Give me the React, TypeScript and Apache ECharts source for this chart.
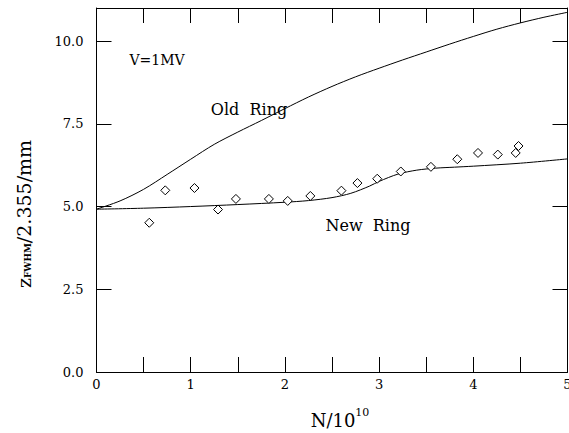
import React, { useEffect, useRef } from "react";
import * as echarts from "echarts";

// Measured points (diamonds)
const measX = [0.56, 0.73, 1.04, 1.29, 1.48, 1.83, 2.03, 2.27, 2.6, 2.77, 2.98, 3.23, 3.55, 3.83, 4.05, 4.26, 4.45, 4.48];
const measY = [4.51, 5.49, 5.56, 4.91, 5.23, 5.23, 5.17, 5.32, 5.48, 5.71, 5.84, 6.06, 6.2, 6.43, 6.62, 6.57, 6.62, 6.83];

// Old Ring curve
const oldX = [0, 0.25, 0.5, 0.75, 1.0, 1.25, 1.5, 1.75, 2.0, 2.25, 2.5, 2.75, 3.0, 3.25, 3.5, 3.75, 4.0, 4.25, 4.5, 4.75, 5.0];
const oldY = [4.92, 5.17, 5.52, 5.97, 6.43, 6.88, 7.25, 7.6, 7.96, 8.31, 8.63, 8.92, 9.18, 9.43, 9.67, 9.91, 10.14, 10.36, 10.55, 10.72, 10.87];

// New Ring curve
const newX = [0, 0.5, 1.0, 1.5, 2.0, 2.25, 2.5, 2.7, 2.9, 3.0, 3.2, 3.4, 3.6, 3.8, 4.0, 4.5, 5.0];
const newY = [4.92, 4.95, 5.0, 5.06, 5.13, 5.18, 5.27, 5.4, 5.62, 5.76, 5.98, 6.1, 6.16, 6.19, 6.22, 6.31, 6.44];

const annotations = [
  { text: "V=1MV", x: 157, y: 60, size: 14 },
  { text: "Old  Ring", x: 249, y: 109, size: 16 },
  { text: "New  Ring", x: 368, y: 225, size: 16 },
];

const FONT = "DejaVu Serif";

const fmtY = (v: number) => {
  const k = v / 2.5;
  return Math.abs(k - Math.round(k)) < 1e-6 ? v.toFixed(1) : "";
};
const fmtX = (v: number) => (Math.abs(v - Math.round(v)) < 1e-6 ? String(Math.round(v)) : "");

export default function App() {
  const ref = useRef<HTMLDivElement>(null);
  useEffect(() => {
    if (!ref.current) return;
    const chart = echarts.init(ref.current, undefined, { renderer: "svg" });
    const axisCommon = {
      type: "value" as const,
      axisLine: { show: true, onZero: false, lineStyle: { color: "#000", width: 1 } },
      axisTick: { show: true, inside: true, length: 15, lineStyle: { color: "#000", width: 1 } },
      splitLine: { show: false },
    };
    chart.setOption({
      animation: false,
      backgroundColor: "#fff",
      grid: { left: 96.5, right: 1.5, top: 8, bottom: 61, outerBoundsMode: "none", containLabel: false },
      xAxis: [
        {
          ...axisCommon,
          position: "bottom",
          min: 0,
          max: 5,
          interval: 0.5,
          axisLabel: { show: true, formatter: fmtX, color: "#000", fontFamily: FONT, fontSize: 13, margin: 6, showMaxLabel: true, hideOverlap: false },
        },
        {
          ...axisCommon,
          position: "top",
          min: 0,
          max: 5,
          interval: 0.5,
          axisLabel: { show: false },
        },
      ],
      yAxis: [
        {
          ...axisCommon,
          position: "left",
          min: 0,
          max: 11,
          interval: 2.5,
          axisLabel: { show: true, formatter: fmtY, color: "#000", fontFamily: FONT, fontSize: 13, margin: 13, hideOverlap: false },
        },
        {
          ...axisCommon,
          position: "right",
          min: 0,
          max: 11,
          interval: 2.5,
          axisLabel: { show: false },
        },
      ],
      series: [
        {
          type: "line",
          name: "Old Ring",
          data: oldX.map((x, i) => [x, oldY[i]]),
          smooth: 0.3,
          showSymbol: false,
          lineStyle: { color: "#000", width: 1 },
          silent: true,
        },
        {
          type: "line",
          name: "New Ring",
          data: newX.map((x, i) => [x, newY[i]]),
          smooth: 0.3,
          showSymbol: false,
          lineStyle: { color: "#000", width: 1 },
          silent: true,
        },
        {
          type: "scatter",
          name: "data",
          data: measX.map((x, i) => [x, measY[i]]),
          symbol: "diamond",
          symbolSize: [9, 9],
          itemStyle: { color: "#fff", borderColor: "#000", borderWidth: 1, opacity: 1 },
          z: 5,
        },
      ],
      graphic: [
        ...annotations.map((a) => ({
          type: "text",
          x: a.x,
          y: a.y,
          style: { text: a.text, fill: "#000", font: `${a.size}px "${FONT}"`, align: "center", verticalAlign: "middle" },
        })),
        {
          type: "text",
          x: 340,
          y: 420,
          style: {
            text: "{a|N/10}{b|10}",
            align: "center",
            verticalAlign: "middle",
            rich: {
              a: { fontFamily: FONT, fontSize: 18, fill: "#000", color: "#000" },
              b: { fontFamily: FONT, fontSize: 11, fill: "#000", color: "#000", padding: [0, 0, 15, 0] },
            },
          },
        },
        {
          type: "text",
          x: 24,
          y: 214,
          rotation: Math.PI / 2,
          style: {
            text: "{a|z}{s|FWHM}{a|/2.355/mm}",
            align: "center",
            verticalAlign: "middle",
            rich: {
              a: { fontFamily: FONT, fontSize: 19, fill: "#000", color: "#000" },
              s: { fontFamily: FONT, fontSize: 9, fontWeight: "bold", fill: "#000", color: "#000", padding: [7, 0, 0, 0] },
            },
          },
        },
      ],
    });
    return () => chart.dispose();
  }, []);
  return <div ref={ref} style={{ width: 569, height: 433, position: "absolute", left: 0, top: 0 }} />;
}
